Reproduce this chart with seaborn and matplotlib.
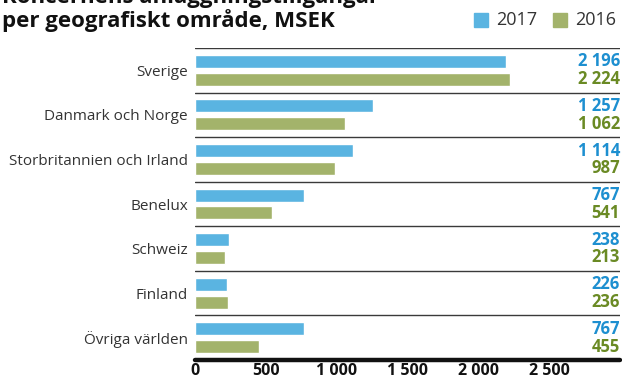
import matplotlib
matplotlib.use("Agg")
import matplotlib.pyplot as plt
import matplotlib.transforms as mtransforms
import seaborn as sns
import pandas as pd

regions = ["Sverige", "Danmark och Norge", "Storbritannien och Irland",
           "Benelux", "Schweiz", "Finland", "Övriga världen"]
values_2017 = [2196, 1257, 1114, 767, 238, 226, 767]
values_2016 = [2224, 1062, 987, 541, 213, 236, 455]
years = ["2017", "2016"]
x_ticks = [0, 500, 1000, 1500, 2000, 2500]

bar_colors = {"2017": "#5ab4e1", "2016": "#a3b36b"}
label_colors = {"2017": "#1d8fd0", "2016": "#6a8a24"}

df = pd.DataFrame({
    "Område": regions * 2,
    "MSEK": values_2017 + values_2016,
    "År": ["2017"] * len(regions) + ["2016"] * len(regions),
})

sns.set_style("white")
plt.rcParams["font.family"] = ["Open Sans", "DejaVu Sans"]

fig = plt.figure(figsize=(6.22, 3.81), dpi=100)
ax = fig.add_axes([195 / 622, 1 - 360 / 381, 425 / 622, 312 / 381])

sns.barplot(data=df, y="Område", x="MSEK", hue="År", hue_order=years,
            order=regions, palette=bar_colors, orient="h",
            gap=0.27, width=0.8, saturation=1, legend=False, ax=ax)

ax.set_xlim(0, 3000)
ax.set_ylim(len(regions) - 0.5, -0.5)
ax.set_xlabel("")
ax.set_ylabel("")
for s in ax.spines.values():
    s.set_visible(False)

# group separators and heavy baseline
for i in range(len(regions)):
    ax.axhline(i - 0.5, color="#3a3a3a", lw=1.0, zorder=0)
ax.axhline(len(regions) - 0.5, color="#111111", lw=3.2, zorder=3, clip_on=False)

ax.set_xticks(x_ticks)
ax.set_xticklabels([f"{v:,}".replace(",", " ") for v in x_ticks],
                   fontsize=11.5, fontweight="bold", color="#111111")
ax.tick_params(axis="x", length=0, pad=2.5)
ax.set_yticks(range(len(regions)))
ax.set_yticklabels(regions, fontsize=11, color="#333333")
ax.tick_params(axis="y", length=0, pad=5)

# value labels at the right edge
trans = mtransforms.blended_transform_factory(ax.transAxes, ax.transData)
for i, (a, b) in enumerate(zip(values_2017, values_2016)):
    for val, off, yr in ((a, -0.2, "2017"), (b, 0.2, "2016")):
        ax.text(1.0, i + off, f"{val:,}".replace(",", " "), transform=trans,
                ha="right", va="center", fontsize=12, fontweight="bold",
                color=label_colors[yr])

# title
fig.text(2 / 622, 1 - 3 / 381, "Koncernens anläggningstillgångar",
         ha="left", va="baseline", fontsize=16, fontweight="bold", color="#111111")
fig.text(2 / 622, 1 - 27 / 381, "per geografiskt område, MSEK",
         ha="left", va="baseline", fontsize=16, fontweight="bold", color="#111111")

# legend
for x0, yr in ((474, "2017"), (553, "2016")):
    fig.patches.append(plt.Rectangle((x0 / 622, 1 - 27 / 381), 14 / 622, 14 / 381,
                                     transform=fig.transFigure,
                                     color=bar_colors[yr]))
    fig.text((x0 + 22) / 622, 1 - 20 / 381, yr, ha="left", va="center",
             fontsize=13, color="#333333")

fig.savefig("out.png", dpi=100)
